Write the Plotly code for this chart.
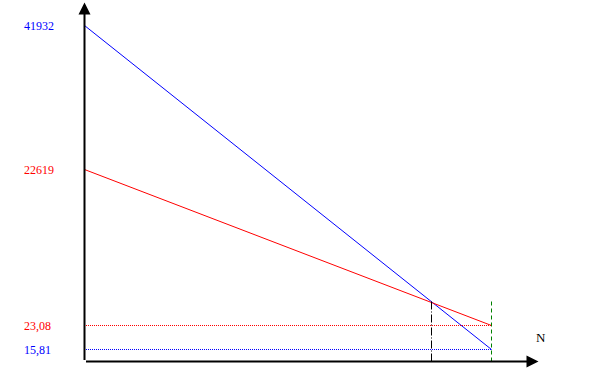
import plotly.graph_objects as go

# schematic values (arbitrary units)
n_values = [0, 407]           # N start / end
blue_line = [336, 12]         # 41932 -> 15,81
red_line = [192, 36]          # 22619 -> 23,08
tick_labels = ["41932", "22619", "23,08", "15,81"]
tick_levels = [336, 192, 36, 12]
tick_colors = ["#0000ff", "#ff0000", "#ff0000", "#0000ff"]
axis_x_end = 454
axis_y_end = 359
guide_top = 60

# intersection of the two lines
sb = (blue_line[1] - blue_line[0]) / (n_values[1] - n_values[0])
sr = (red_line[1] - red_line[0]) / (n_values[1] - n_values[0])
x_int = (red_line[0] - blue_line[0]) / (sb - sr)

fig = go.Figure()
fig.add_trace(go.Scatter(x=n_values, y=blue_line, mode="lines",
                         line=dict(color="#0000ff", width=1)))
fig.add_trace(go.Scatter(x=n_values, y=red_line, mode="lines",
                         line=dict(color="#ff0000", width=1)))
fig.add_trace(go.Scatter(x=n_values, y=[red_line[1]] * 2, mode="lines", xaxis="x2",
                         line=dict(color="#ff0000", width=1, dash="1px,1px")))
fig.add_trace(go.Scatter(x=n_values, y=[blue_line[1]] * 2, mode="lines", xaxis="x2",
                         line=dict(color="#0000ff", width=1, dash="1px,1px")))
fig.add_trace(go.Scatter(x=[n_values[1]] * 2, y=[0, guide_top], mode="lines",
                         line=dict(color="#008000", width=1, dash="4px,3px")))
fig.add_trace(go.Scatter(x=[round(x_int) - 2] * 2, y=[0, guide_top], mode="lines",
                         line=dict(color="#000000", width=1, dash="8px,2px,1px,2px")))

annotations = []
# axes with arrowheads
annotations.append(dict(x=axis_x_end, y=0, ax=0, ay=0, xref="x", yref="y",
                        axref="x", ayref="y", showarrow=True, arrowhead=2,
                        arrowsize=1.2, arrowwidth=2, arrowcolor="#000000",
                        standoff=0, startstandoff=0, text=""))
annotations.append(dict(x=0, y=axis_y_end, ax=0, ay=0, xref="x", yref="y",
                        axref="x", ayref="y", showarrow=True, arrowhead=2,
                        arrowsize=1.2, arrowwidth=2, arrowcolor="#000000",
                        standoff=0, startstandoff=0, text=""))
for lab, lev, col in zip(tick_labels, tick_levels, tick_colors):
    annotations.append(dict(x=-63, y=lev, xref="x", yref="y", text=lab,
                            showarrow=False, xanchor="left", yanchor="middle",
                            font=dict(family="Liberation Serif", size=12, color=col)))
annotations.append(dict(x=456, y=24, xref="x", yref="y", text="N",
                        showarrow=False, xanchor="center", yanchor="middle",
                        font=dict(family="Liberation Serif", size=13, color="#000000")))

fig.update_layout(
    width=612, height=374,
    margin=dict(l=0, r=0, t=0, b=0),
    paper_bgcolor="white", plot_bgcolor="white",
    showlegend=False,
    xaxis=dict(range=[-84.5, 527.5], visible=False, fixedrange=True),
    xaxis2=dict(range=[-84, 528], visible=False, fixedrange=True,
                overlaying="x", matches=None),
    yaxis=dict(range=[-12.5, 361.5], visible=False, fixedrange=True),
    annotations=annotations,
)
fig.write_html("out.html", config={"displayModeBar": False},
               post_script="document.body.style.margin='0px';document.body.style.padding='0px';")
